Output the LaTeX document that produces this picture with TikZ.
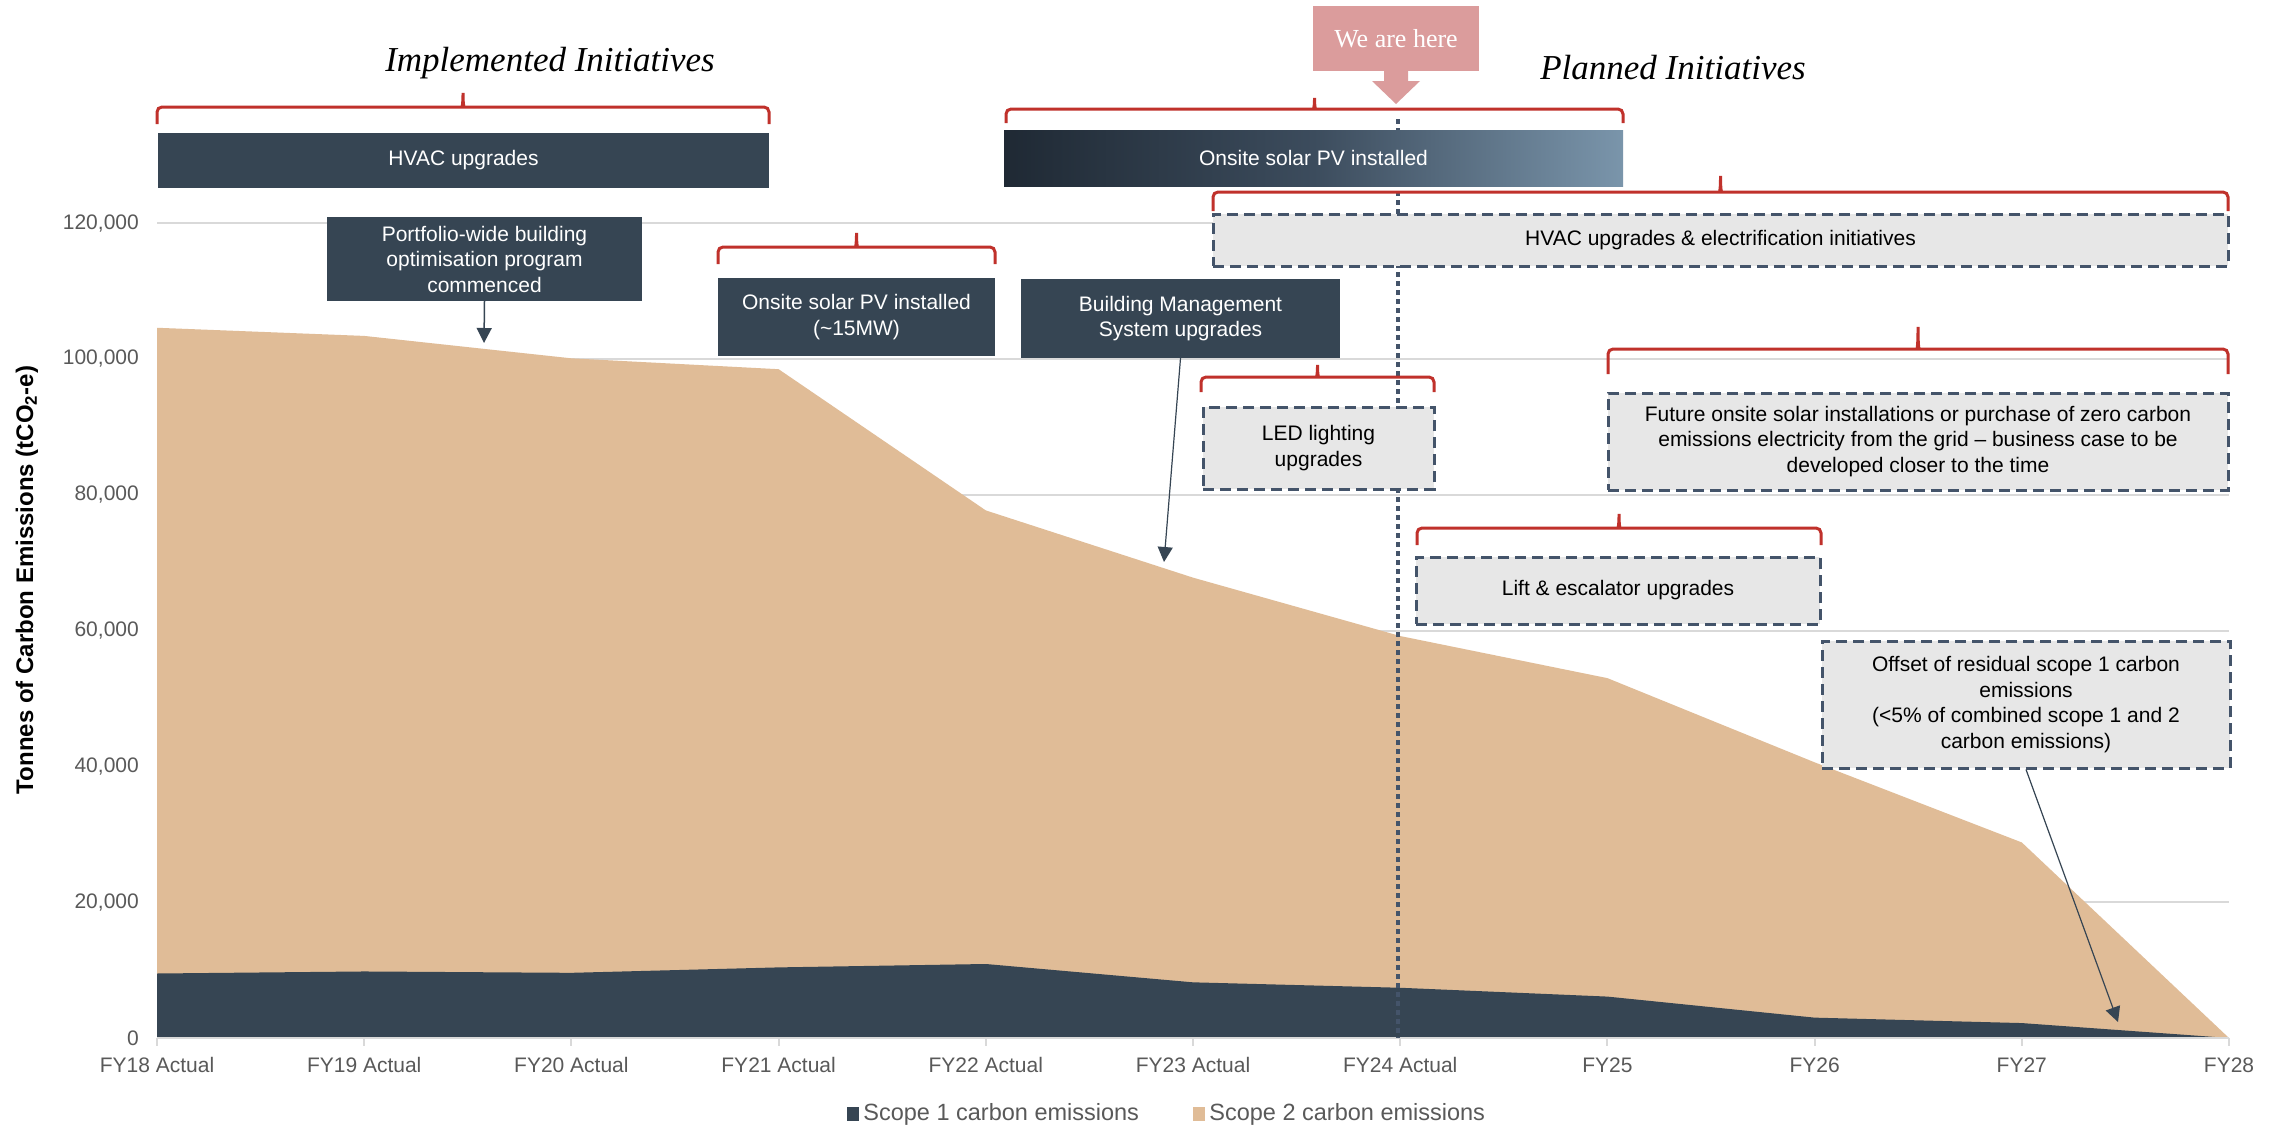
\documentclass[tikz,border=0pt]{standalone}
\usepackage{fontspec}
\setmainfont{Liberation Sans}
\newfontfamily\titlefont{Liberation Serif}
\usetikzlibrary{arrows.meta, positioning}

\definecolor{slate}{RGB}{54,69,83}
\definecolor{tan}{RGB}{224,188,151}
\definecolor{bracered}{RGB}{192,49,43}
\definecolor{planfill}{RGB}{231,231,231}
\definecolor{planedge}{RGB}{68,84,106}
\definecolor{herepink}{RGB}{219,156,156}
\definecolor{axisgray}{RGB}{89,89,89}
\definecolor{gridgray}{RGB}{217,217,217}
\definecolor{solardark}{RGB}{31,41,52}
\definecolor{solarmid}{RGB}{60,76,93}
\definecolor{solarlight}{RGB}{122,149,171}

\newcommand\boxfont{\fontsize{21}{25.5}\selectfont}
\newcommand\legendfont{\fontsize{23.5}{28}\selectfont}

% x1, x2, height of the line, size of tip and ends
\newcommand\drawbrace[4]{%
  \pgfmathsetmacro\bracemid{(#1+#2)/2}%
  \draw[brace] (#1,{#3+#4}) -- (#1,#3) -- ({\bracemid-6},#3)
    .. controls ({\bracemid-1},#3) and (\bracemid,{#3-3}) .. (\bracemid,{#3-#4})
    .. controls (\bracemid,{#3-3}) and ({\bracemid+1},#3) .. ({\bracemid+6},#3)
    -- (#2,#3) -- (#2,{#3+#4});}

\tikzset{
  darkbox/.style={fill=slate, text=white, inner sep=0pt, align=center, font=\boxfont},
  planbox/.style={fill=planfill, draw=planedge, line width=3pt, dash pattern=on 11pt off 6pt,
    inner sep=0pt, align=center, font=\boxfont},
  brace/.style={draw=bracered, line width=3pt, rounded corners=5pt},
  pointer/.style={draw=slate, line width=1.5pt, -{Triangle[length=15pt,width=15pt]}},
  gridline/.style={draw=gridgray, line width=2pt},
  ticklabel/.style={text=axisgray, font=\boxfont, inner sep=0pt},
}

\begin{document}
\begin{tikzpicture}[x=1pt, y=-1pt,
    declare function={fx(\i)=157+207.2*\i; vy(\v)=1038-6.79*\v;}]
  \useasboundingbox (0,0) rectangle (2286,1127);
  \fill[white] (0,0) rectangle (2286,1127);

  % grid and y axis
  \foreach \g in {20,40,...,120} {
    \draw[gridline] ({fx(0)},{vy(\g)}) -- ({fx(10)},{vy(\g)});
    \node[ticklabel, anchor=east] (ytick\g) at (139,{vy(\g)}) {\g,000};
  }
  \node[ticklabel, anchor=east] (ytick0) at (139,{vy(0)}) {0};

  % stacked areas
  \fill[tan] ({fx(0)},{vy(0)})
    \foreach \v [count=\i from 0] in {104.6,103.4,100.1,98.5,77.7,67.8,59.2,53.0,40.6,28.8,0}
      { -- ({fx(\i)},{vy(\v)}) } -- cycle;
  \fill[slate] ({fx(0)},{vy(0)})
    \foreach \v [count=\i from 0] in {9.5,9.8,9.6,10.4,10.9,8.2,7.4,6.1,3.0,2.2,0}
      { -- ({fx(\i)},{vy(\v)}) } -- cycle;

  % x axis
  \draw[gridline] ({fx(0)},{vy(0)}) -- ({fx(10)},{vy(0)});
  \foreach \lab [count=\i from 0] in {FY18 Actual,FY19 Actual,FY20 Actual,FY21 Actual,
      FY22 Actual,FY23 Actual,FY24 Actual,FY25,FY26,FY27,FY28} {
    \draw[gridline] ({fx(\i)},{vy(0)}) -- ++(0,8);
    \node[ticklabel] (xtick\i) at ({fx(\i)},1065) {\lab};
  }

  \node[rotate=90, font=\bfseries\fontsize{24}{28}\selectfont] (ytitle) at (27,580)
    {Tonnes of Carbon Emissions (tCO\textsubscript{2}-e)};

  % today line
  \coordinate (nowtop) at ({fx(6)-2},119);
  \coordinate (nowbot) at ({fx(6)-2},{vy(0)});
  \draw[planedge, line width=3.5pt, dash pattern=on 5pt off 4pt] (nowtop) -- (nowbot);

  % titles
  \node[font=\titlefont\itshape\fontsize{35}{40}\selectfont] (implemented) at (550,63) {Implemented Initiatives};
  \node[font=\titlefont\itshape\fontsize{35}{40}\selectfont] (planned) at (1673,68) {Planned Initiatives};

  \node[fill=herepink, text=white, inner sep=0pt, minimum width=166pt, minimum height=65pt,
    font=\titlefont\fontsize{26}{30}\selectfont] (here) at (1396,38.5) {We are here};
  \fill[herepink] (1384,70) -- (1384,81) -- (1372,81) -- (1396,104) -- (1420,81)
    -- (1408,81) -- (1408,70) -- cycle;

  % implemented
  \drawbrace{157}{769}{107}{17}
  \node[darkbox, minimum width=611pt, minimum height=55pt] (hvacdone) at (463.5,160.5) {HVAC upgrades};
  \node[darkbox, minimum width=315pt, minimum height=84pt] (portfolio) at (484.5,259)
    {Portfolio-wide building\\optimisation program\\commenced};
  \drawbrace{718}{995}{247}{17}
  \node[darkbox, minimum width=277pt, minimum height=78pt] (solardone) at (856.5,317)
    {Onsite solar PV installed\\(\textasciitilde15MW)};
  \node[darkbox, minimum width=319pt, minimum height=79pt] (bms) at (1180.5,318.5)
    {Building Management\\System upgrades};
  \drawbrace{1006}{1623}{109}{14}
  \node[darkbox, left color=solardark, right color=solarlight, middle color=solarmid,
    minimum width=619pt, minimum height=56pt] (solarpv) at (1313.5,158) {Onsite solar PV installed};

  % planned
  \drawbrace{1213}{2228}{192}{19}
  \node[planbox, minimum width=1015pt, minimum height=52pt] (hvacplan) at (1720.5,240)
    {HVAC upgrades \& electrification initiatives};
  \drawbrace{1201}{1434}{377}{15}
  \node[planbox, minimum width=231pt, minimum height=82pt] (led) at (1318.5,448) {LED lighting\\upgrades};
  \drawbrace{1608}{2228}{349}{25}
  \node[planbox, minimum width=620pt, minimum height=97pt] (future) at (1918,441.5)
    {Future onsite solar installations or purchase of zero carbon\\emissions electricity from the grid -- business case to be\\developed closer to the time};
  \drawbrace{1417}{1821}{528}{17}
  \node[planbox, minimum width=404pt, minimum height=67pt] (lift) at (1618,590.5) {Lift \& escalator upgrades};
  \node[planbox, minimum width=408pt, minimum height=127pt] (offset) at (2026,704.5)
    {Offset of residual scope 1 carbon\\emissions\\(<5\% of combined scope 1 and 2\\carbon emissions)};

  % pointers
  \coordinate (portfoliotip) at (484,343);
  \coordinate (bmstip) at (1164,562);
  \coordinate (offsettip) at (2118,1022);
  \draw[pointer] (portfolio.south) -- (portfoliotip);
  \draw[pointer, line width=1.2pt] (bms.south) -- (bmstip);
  \draw[pointer, line width=1.2pt] (offset.south) -- (offsettip);

  % legend
  \node[fill=slate, inner sep=0pt, minimum width=12pt, minimum height=14pt] (legone) at (853,1114) {};
  \node[right=4pt of legone, text=axisgray, font=\legendfont, inner sep=0pt] (legonetext) {Scope 1 carbon emissions};
  \node[fill=tan, inner sep=0pt, minimum width=12pt, minimum height=14pt] (legtwo) at (1199,1114) {};
  \node[right=4pt of legtwo, text=axisgray, font=\legendfont, inner sep=0pt] (legtwotext) {Scope 2 carbon emissions};
\end{tikzpicture}
\end{document}
